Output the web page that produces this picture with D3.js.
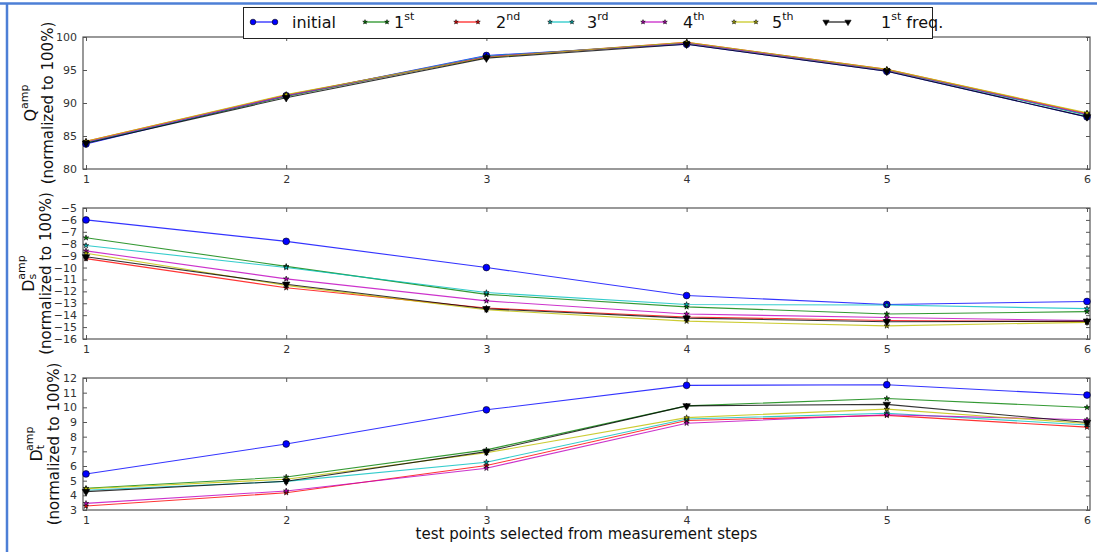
<!DOCTYPE html>
<html>
<head>
<meta charset="utf-8">
<script src="https://cdn.jsdelivr.net/npm/d3@7"></script>
<style>
  html, body { margin: 0; padding: 0; background: #fff; }
  svg { display: block; font-family: "DejaVu Sans", sans-serif; }
</style>
</head>
<body>
<svg id="chart" width="1097" height="552"></svg>
<script>
// Test points along the x axis
const testPoints = [1, 2, 3, 4, 5, 6];

// Series names as shown in the legend (base text + superscript)
const seriesNames = [
  ["initial", ""], ["1", "st"], ["2", "nd"], ["3", "rd"],
  ["4", "th"], ["5", "th"], ["1", "st", " freq."]
];
const seriesColors = ["#0000ff", "#008000", "#ff0000", "#00bfbf", "#bf00bf", "#bfbf00", "#000000"];
const seriesMarkers = ["circle", "star", "star", "star", "star", "star", "triangleDown"];

// Q amplitude (normalized to 100%)
const qInitial = [83.8, 91.1, 97.2, 98.9, 94.8, 87.9];
const q1st     = [84.0, 91.0, 97.0, 99.1, 95.0, 88.2];
const q2nd     = [84.2, 91.2, 97.0, 99.2, 95.1, 88.4];
const q3rd     = [84.0, 91.1, 97.1, 99.1, 95.0, 88.2];
const q4th     = [84.1, 91.1, 97.0, 99.1, 95.0, 88.3];
const q5th     = [84.2, 91.3, 96.9, 99.2, 95.1, 88.5];
const q1stFreq = [83.9, 90.8, 96.8, 98.9, 94.8, 87.9];

// Ds amplitude (normalized to 100%)
const dsInitial = [-6.0, -7.8, -10.0, -12.35, -13.1, -12.85];
const ds1st     = [-7.5, -9.9, -12.25, -13.3, -13.9, -13.7];
const ds2nd     = [-9.25, -11.7, -13.4, -14.15, -14.45, -14.55];
const ds3rd     = [-8.15, -10.0, -12.1, -13.1, -13.15, -13.45];
const ds4th     = [-8.6, -10.95, -12.8, -13.9, -14.2, -14.45];
const ds5th     = [-8.8, -11.5, -13.55, -14.5, -14.9, -14.6];
const ds1stFreq = [-9.1, -11.4, -13.46, -14.25, -14.55, -14.5];

// Dt amplitude (normalized to 100%)
const dtInitial = [5.46, 7.5, 9.83, 11.5, 11.54, 10.84];
const dt1st     = [4.48, 5.25, 7.1, 10.1, 10.6, 9.99];
const dt2nd     = [3.27, 4.18, 6.03, 9.1, 9.45, 8.65];
const dt3rd     = [4.35, 4.95, 6.26, 9.2, 9.6, 8.8];
const dt4th     = [3.45, 4.3, 5.85, 8.92, 9.49, 9.15];
const dt5th     = [4.45, 5.1, 6.9, 9.3, 9.88, 8.9];
const dt1stFreq = [4.25, 4.96, 6.98, 10.1, 10.2, 8.97];

// Y axis ticks per panel
const qTicks  = [80, 85, 90, 95, 100];
const dsTicks = [-16, -15, -14, -13, -12, -11, -10, -9, -8, -7, -6, -5];
const dtTicks = [3, 4, 5, 6, 7, 8, 9, 10, 11, 12];

const xLabel = "test points selected from measurement steps";

const svg = d3.select("#chart");

// Outer frame lines
svg.append("line").attr("x1", 0).attr("x2", 1097).attr("y1", 3.5).attr("y2", 3.5)
  .attr("stroke", "#4d7fd6").attr("stroke-width", 2.5);
svg.append("line").attr("x1", 7).attr("x2", 7).attr("y1", 3).attr("y2", 552)
  .attr("stroke", "#4d7fd6").attr("stroke-width", 2.5);

const plotLeft = 83, plotRight = 1090;
const dx = 3 / 200.2;
const x = d3.scaleLinear().domain([1 - dx, 6 + dx]).range([plotLeft, plotRight]);

const panels = [
  { top: 37, bottom: 169, domain: [80, 100], ticks: qTicks,
    series: [qInitial, q1st, q2nd, q3rd, q4th, q5th, q1stFreq],
    label: { main: "Q", sub: "", sup: "amp" }, labelX: 30 },
  { top: 208, bottom: 339, domain: [-16, -5], ticks: dsTicks,
    series: [dsInitial, ds1st, ds2nd, ds3rd, ds4th, ds5th, ds1stFreq],
    label: { main: "D", sub: "s", sup: "amp" }, labelX: 28 },
  { top: 378, bottom: 510, domain: [3, 12], ticks: dtTicks,
    series: [dtInitial, dt1st, dt2nd, dt3rd, dt4th, dt5th, dt1stFreq],
    label: { main: "D", sub: "t", sup: "amp" }, labelX: 36 }
];

function symbolFor(kind, scale) {
  if (kind === "circle") return d3.symbol(d3.symbolCircle, 36 * scale);
  if (kind === "star") return d3.symbol(d3.symbolStar, 9 * scale);
  return d3.symbol(d3.symbolTriangle, 24 * scale);
}

function drawMarker(g, kind, color, cx, cy, scale = 1) {
  const p = g.append("path")
    .attr("d", symbolFor(kind, scale)())
    .attr("fill", color)
    .attr("stroke", "#000")
    .attr("stroke-width", 0.6);
  if (kind === "triangleDown") p.attr("transform", `translate(${cx},${cy}) rotate(180)`);
  else p.attr("transform", `translate(${cx},${cy})`);
}

const spineColor = "#555";
const tickTextColor = "#333";

panels.forEach(panel => {
  const y = d3.scaleLinear().domain(panel.domain).range([panel.bottom, panel.top]);
  const g = svg.append("g");

  // Plot frame
  g.append("rect")
    .attr("x", plotLeft).attr("y", panel.top)
    .attr("width", plotRight - plotLeft).attr("height", panel.bottom - panel.top)
    .attr("fill", "#fff").attr("stroke", spineColor).attr("stroke-width", 1.2);

  // Inward ticks on all four sides
  const axL = d3.axisLeft(y).tickValues(panel.ticks).tickSize(-4).tickPadding(6)
    .tickFormat(d => d < 0 ? "\u2212" + Math.abs(d) : d);
  const axR = d3.axisRight(y).tickValues(panel.ticks).tickSize(-4).tickFormat("");
  const axB = d3.axisBottom(x).tickValues(testPoints).tickSize(-4).tickPadding(6)
    .tickFormat(d3.format("d"));
  const axT = d3.axisTop(x).tickValues(testPoints).tickSize(-4).tickFormat("");

  const styleAxis = sel => {
    sel.select(".domain").remove();
    sel.selectAll(".tick line").attr("stroke", spineColor);
    sel.selectAll("text").attr("fill", tickTextColor).attr("font-size", 11)
      .attr("font-family", "DejaVu Sans, sans-serif");
  };
  g.append("g").attr("transform", `translate(${plotLeft},0)`).call(axL).call(styleAxis);
  g.append("g").attr("transform", `translate(${plotRight},0)`).call(axR).call(styleAxis);
  g.append("g").attr("transform", `translate(0,${panel.bottom})`).call(axB).call(styleAxis);
  g.append("g").attr("transform", `translate(0,${panel.top})`).call(axT).call(styleAxis);

  // Series lines and markers
  const line = d3.line().x((d, i) => x(testPoints[i])).y(d => y(d));
  panel.series.forEach((vals, si) => {
    g.append("path").datum(vals)
      .attr("d", line)
      .attr("fill", "none")
      .attr("stroke", seriesColors[si])
      .attr("stroke-width", 1.1)
      .attr("stroke-opacity", 0.8);
  });
  panel.series.forEach((vals, si) => {
    vals.forEach((v, i) => drawMarker(g, seriesMarkers[si], seriesColors[si], x(testPoints[i]), y(v)));
  });

  // Rotated y label: two lines
  const cy = (panel.top + panel.bottom) / 2;
  const lab = g.append("text")
    .attr("transform", `translate(${panel.labelX},${cy}) rotate(-90)`)
    .attr("text-anchor", "middle")
    .attr("dominant-baseline", "central")
    .attr("font-size", 16).attr("fill", "#111");
  lab.append("tspan").text(panel.label.main);
  if (panel.label.sub) {
    lab.append("tspan").attr("font-size", 11).attr("dy", 4).text(panel.label.sub);
    lab.append("tspan").attr("font-size", 11).attr("dx", -6).attr("dy", -11).text(panel.label.sup);
  } else {
    lab.append("tspan").attr("font-size", 11).attr("dy", -6).text(panel.label.sup);
  }
  g.append("text")
    .attr("transform", `translate(${panel.labelX + 18},${cy}) rotate(-90)`)
    .attr("text-anchor", "middle")
    .attr("dominant-baseline", "central")
    .attr("font-size", 15).attr("fill", "#111")
    .text("(normalized to 100%)");
});

// X axis title
svg.append("text")
  .attr("x", (plotLeft + plotRight) / 2).attr("y", 539)
  .attr("text-anchor", "middle")
  .attr("font-size", 15).attr("fill", "#111")
  .text(xLabel);

// Legend
const legend = svg.append("g");
legend.append("rect")
  .attr("x", 243.5).attr("y", 7.5).attr("width", 689).attr("height", 31)
  .attr("fill", "#fff").attr("stroke", "#222").attr("stroke-width", 1);

const legendLineX = [253, 365, 456, 550, 643, 734, 826];
const legendTextX = [292, 394, 496, 587, 683, 772, 881];
const legendY = 22;
seriesNames.forEach((nm, i) => {
  const x0 = legendLineX[i], x1 = x0 + 22;
  legend.append("line").attr("x1", x0).attr("x2", x1).attr("y1", legendY).attr("y2", legendY)
    .attr("stroke", seriesColors[i]).attr("stroke-width", 1.1);
  drawMarker(legend, seriesMarkers[i], seriesColors[i], x0, legendY, 0.7);
  drawMarker(legend, seriesMarkers[i], seriesColors[i], x1, legendY, 0.7);
  const t = legend.append("text")
    .attr("x", legendTextX[i]).attr("y", legendY + 6)
    .attr("font-size", 16).attr("fill", "#111");
  t.append("tspan").text(nm[0]);
  if (nm[1]) t.append("tspan").attr("font-size", 11).attr("dy", -8).text(nm[1]);
  if (nm[2]) t.append("tspan").attr("dy", 8).text(nm[2]);
});
</script>
</body>
</html>
